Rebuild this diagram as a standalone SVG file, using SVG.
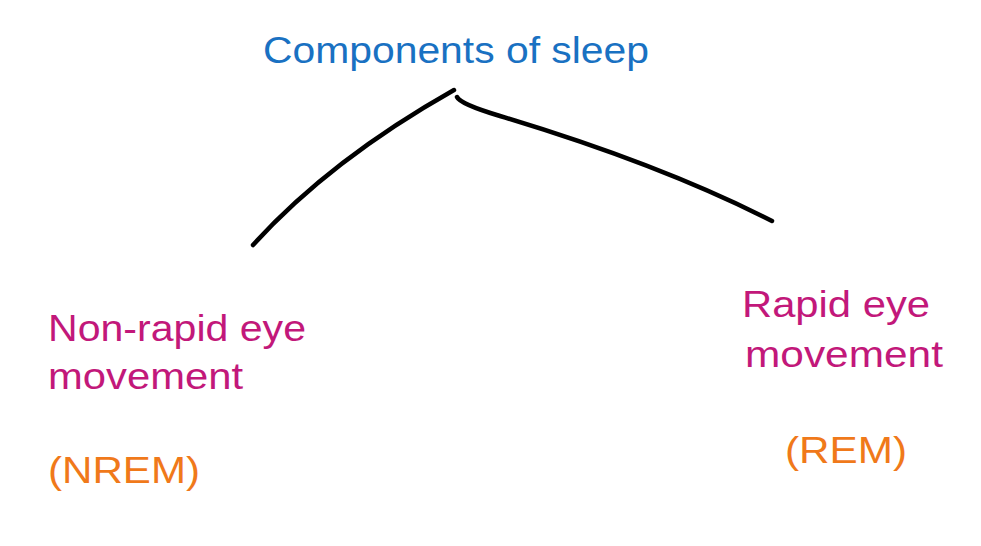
<svg xmlns="http://www.w3.org/2000/svg" width="981" height="546" viewBox="0 0 981 546">
<style>
.t{font-family:"Liberation Sans","DejaVu Sans",sans-serif;font-size:36px}
.blue{fill:#1971c2}
.pink{fill:#c2187a}
.orange{fill:#f0791a}
.edge{fill:none;stroke:#000;stroke-width:4.5;stroke-linecap:round}
</style>
<rect width="981" height="546" fill="#fff"/>
<g id="connectors">
<path class="edge" d="M253,245 Q330,160 454,90"/>
<path class="edge" d="M457,97 Q460,104 500,116 Q660,164 772,221"/>
</g>
<g id="root"><text class="t blue" x="263" y="63" textLength="386" lengthAdjust="spacingAndGlyphs">Components of sleep</text></g>
<g id="nrem">
<text class="t pink" x="48" y="341" textLength="258" lengthAdjust="spacingAndGlyphs">Non-rapid eye</text>
<text class="t pink" x="48" y="389" textLength="195" lengthAdjust="spacingAndGlyphs">movement</text>
<text class="t orange" x="48" y="483" textLength="152" lengthAdjust="spacingAndGlyphs">(NREM)</text>
</g>
<g id="rem">
<text class="t pink" x="742" y="317" textLength="188" lengthAdjust="spacingAndGlyphs">Rapid eye</text>
<text class="t pink" x="745" y="367" textLength="198" lengthAdjust="spacingAndGlyphs">movement</text>
<text class="t orange" x="785" y="463" textLength="122" lengthAdjust="spacingAndGlyphs">(REM)</text>
</g>
</svg>
